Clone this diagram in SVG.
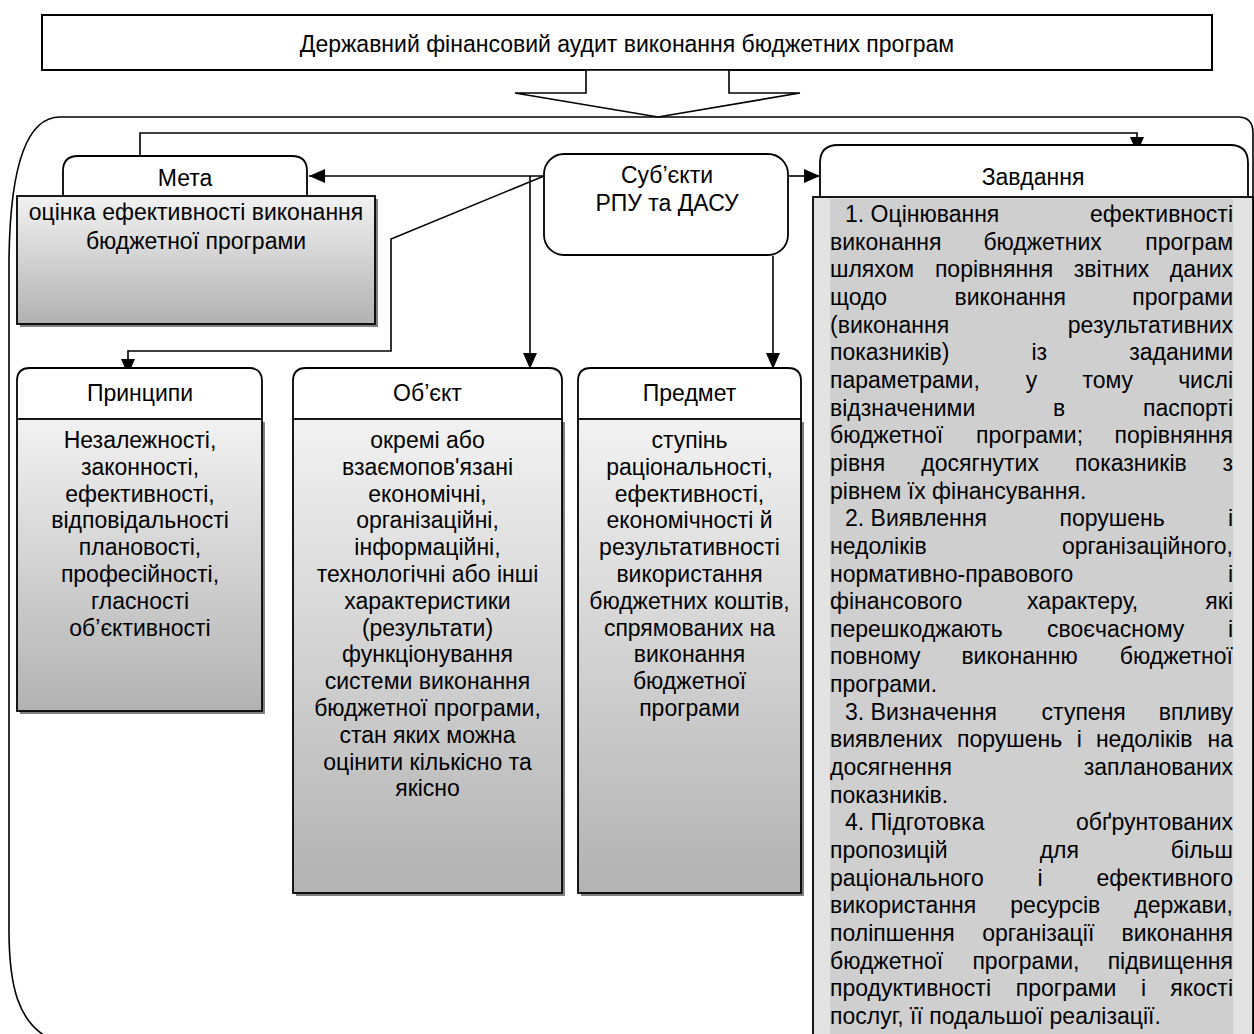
<svg xmlns="http://www.w3.org/2000/svg" width="1254" height="1034" viewBox="0 0 1254 1034">
<style>
text{font-family:"Liberation Sans",Arial,sans-serif;font-size:23px;fill:#000}
.c{text-anchor:middle}
.e{text-anchor:end}
.ln{fill:none;stroke:#000;stroke-width:1.6}
.bx{stroke:#000;stroke-width:1.8}
.hd{fill:#fff;stroke:#000;stroke-width:1.8}
.sh{fill:#808080}
</style>
<defs>
<linearGradient id="g" x1="0" y1="0" x2="0" y2="1">
<stop offset="0" stop-color="#f2f2f2"/>
<stop offset="1" stop-color="#b2b2b2"/>
</linearGradient>
<marker id="a" markerUnits="userSpaceOnUse" viewBox="0 0 16 14" markerWidth="16" markerHeight="14" refX="16" refY="7" orient="auto">
<path d="M0,0 L16,7 L0,14 z" fill="#000"/>
</marker>
</defs>
<rect width="1254" height="1034" fill="#fff"/>

<g id="frame">
<path class="ln" d="M1253,1040 V133 Q1253,117 1238,117 H60 C25,117 10,170 9,260 V930 C9,990 20,1020 45,1036"/>
</g>

<g id="title">
<rect x="42" y="15" width="1170" height="55" fill="#fff" stroke="#000" stroke-width="2"/>
<text class="c" x="627" y="52">Державний фінансовий аудит виконання бюджетних програм</text>
</g>

<g id="bigarrow">
<polygon points="586,70 586,93 515,93 658,117 800,93 729,93 729,70" fill="#fff" stroke="#000" stroke-width="1.6"/>
</g>

<g id="connectors">
<path class="ln" d="M140,162 V133 H1137 V153" marker-end="url(#a)"/>
<path class="ln" d="M544,176 H309" marker-end="url(#a)"/>
<path class="ln" d="M788,176 H820" marker-end="url(#a)"/>
<path class="ln" d="M544,176 L391,239 V351 H128 V375" marker-end="url(#a)"/>
<path class="ln" d="M530,176 V369" marker-end="url(#a)"/>
<path class="ln" d="M773,256 V369" marker-end="url(#a)"/>
</g>

<g id="meta">
<path class="hd" d="M63,196 V171 Q63,156 78,156 H292 Q307,156 307,171 V196"/>
<text class="c" x="185" y="186">Мета</text>
<rect class="sh" x="20" y="199" width="358" height="128"/>
<rect class="bx" x="17" y="196" width="358" height="128" fill="url(#g)"/>
<text class="c" x="196" y="220">оцінка ефективності виконання</text>
<text class="c" x="196" y="249">бюджетної програми</text>
</g>

<g id="subjects">
<rect class="hd" x="544" y="154" width="244" height="101" rx="20"/>
<text class="c" x="667" y="183">Суб’єкти</text>
<text class="c" x="667" y="211">РПУ та ДАСУ</text>
</g>

<g id="pryntsypy">
<path class="hd" d="M17,419 V381 Q17,368 30,368 H249 Q262,368 262,381 V419"/>
<text class="c" x="140" y="401">Принципи</text>
<rect class="sh" x="20" y="422" width="245" height="292"/>
<rect class="bx" x="17" y="419" width="245" height="292" fill="url(#g)"/>
<text class="c" x="140" y="448">Незалежності,</text>
<text class="c" x="140" y="474.8">законності,</text>
<text class="c" x="140" y="501.6">ефективності,</text>
<text class="c" x="140" y="528.4">відповідальності</text>
<text class="c" x="140" y="555.2">плановості,</text>
<text class="c" x="140" y="582">професійності,</text>
<text class="c" x="140" y="608.8">гласності</text>
<text class="c" x="140" y="635.6">об’єктивності</text>
</g>

<g id="obiekt">
<path class="hd" d="M293,419 V381 Q293,368 306,368 H549 Q562,368 562,381 V419"/>
<text class="c" x="427.5" y="401">Об’єкт</text>
<rect class="sh" x="296" y="422" width="269" height="474"/>
<rect class="bx" x="293" y="419" width="269" height="474" fill="url(#g)"/>
<text class="c" x="427.5" y="448">окремі або</text>
<text class="c" x="427.5" y="474.8">взаємопов'язані</text>
<text class="c" x="427.5" y="501.6">економічні,</text>
<text class="c" x="427.5" y="528.4">організаційні,</text>
<text class="c" x="427.5" y="555.2">інформаційні,</text>
<text class="c" x="427.5" y="582">технологічні або інші</text>
<text class="c" x="427.5" y="608.8">характеристики</text>
<text class="c" x="427.5" y="635.6">(результати)</text>
<text class="c" x="427.5" y="662.4">функціонування</text>
<text class="c" x="427.5" y="689.2">системи виконання</text>
<text class="c" x="427.5" y="716">бюджетної програми,</text>
<text class="c" x="427.5" y="742.8">стан яких можна</text>
<text class="c" x="427.5" y="769.6">оцінити кількісно та</text>
<text class="c" x="427.5" y="796.4">якісно</text>
</g>

<g id="predmet">
<path class="hd" d="M578,419 V381 Q578,368 591,368 H788 Q801,368 801,381 V419"/>
<text class="c" x="689.5" y="401">Предмет</text>
<rect class="sh" x="581" y="422" width="223" height="474"/>
<rect class="bx" x="578" y="419" width="223" height="474" fill="url(#g)"/>
<text class="c" x="689.5" y="448">ступінь</text>
<text class="c" x="689.5" y="474.8">раціональності,</text>
<text class="c" x="689.5" y="501.6">ефективності,</text>
<text class="c" x="689.5" y="528.4">економічності й</text>
<text class="c" x="689.5" y="555.2">результативності</text>
<text class="c" x="689.5" y="582">використання</text>
<text class="c" x="689.5" y="608.8">бюджетних коштів,</text>
<text class="c" x="689.5" y="635.6">спрямованих на</text>
<text class="c" x="689.5" y="662.4">виконання</text>
<text class="c" x="689.5" y="689.2">бюджетної</text>
<text class="c" x="689.5" y="716">програми</text>
</g>

<g id="zavdannia">
<path class="hd" d="M820,197 V163 Q820,145 838,145 H1230 Q1248,145 1248,163 V197"/>
<text class="c" x="1033" y="185">Завдання</text>
<rect class="bx" x="813" y="197" width="440" height="845" fill="#e3e3e3"/>
<rect x="830" y="199" width="403" height="840" fill="#cfcfcf"/>
<text x="845" y="222">1. Оцінювання</text><text class="e" x="1233" y="222">ефективності</text>
<text x="830" y="249.7">виконання</text><text x="983.4" y="249.7">бюджетних</text><text class="e" x="1233" y="249.7">програм</text>
<text x="830" y="277.3">шляхом</text><text x="934.9" y="277.3">порівняння</text><text x="1073.8" y="277.3">звітних</text><text class="e" x="1233" y="277.3">даних</text>
<text x="830" y="305">щодо</text><text x="954.5" y="305">виконання</text><text class="e" x="1233" y="305">програми</text>
<text x="830" y="332.6">(виконання</text><text class="e" x="1233" y="332.6">результативних</text>
<text x="830" y="360.3">показників)</text><text x="1031.5" y="360.3">із</text><text class="e" x="1233" y="360.3">заданими</text>
<text x="830" y="387.9">параметрами,</text><text x="1025.7" y="387.9">у</text><text x="1082.4" y="387.9">тому</text><text class="e" x="1233" y="387.9">числі</text>
<text x="830" y="415.6">відзначеними</text><text x="1053.1" y="415.6">в</text><text class="e" x="1233" y="415.6">паспорті</text>
<text x="830" y="443.2">бюджетної</text><text x="976" y="443.2">програми;</text><text class="e" x="1233" y="443.2">порівняння</text>
<text x="830" y="470.9">рівня</text><text x="921.3" y="470.9">досягнутих</text><text x="1074.9" y="470.9">показників</text><text class="e" x="1233" y="470.9">з</text>
<text x="830" y="498.5">рівнем їх фінансування.</text>
<text x="845" y="526.2">2. Виявлення</text><text x="1059.5" y="526.2">порушень</text><text class="e" x="1233" y="526.2">і</text>
<text x="830" y="553.8">недоліків</text><text class="e" x="1233" y="553.8">організаційного,</text>
<text x="830" y="581.5">нормативно-правового</text><text class="e" x="1233" y="581.5">і</text>
<text x="830" y="609.1">фінансового</text><text x="1027.1" y="609.1">характеру,</text><text class="e" x="1233" y="609.1">які</text>
<text x="830" y="636.8">перешкоджають</text><text x="1047" y="636.8">своєчасному</text><text class="e" x="1233" y="636.8">і</text>
<text x="830" y="664.4">повному</text><text x="961.4" y="664.4">виконанню</text><text class="e" x="1233" y="664.4">бюджетної</text>
<text x="830" y="692.1">програми.</text>
<text x="845" y="719.7">3. Визначення</text><text x="1041.6" y="719.7">ступеня</text><text class="e" x="1233" y="719.7">впливу</text>
<text x="830" y="747.4">виявлених</text><text x="957.1" y="747.4">порушень</text><text x="1076.7" y="747.4">і</text><text x="1095.9" y="747.4">недоліків</text><text class="e" x="1233" y="747.4">на</text>
<text x="830" y="775">досягнення</text><text class="e" x="1233" y="775">запланованих</text>
<text x="830" y="802.7">показників.</text>
<text x="845" y="830.3">4. Підготовка</text><text class="e" x="1233" y="830.3">обґрунтованих</text>
<text x="830" y="858">пропозицій</text><text x="1039.7" y="858">для</text><text class="e" x="1233" y="858">більш</text>
<text x="830" y="885.6">раціонального</text><text x="1037.6" y="885.6">і</text><text class="e" x="1233" y="885.6">ефективного</text>
<text x="830" y="913.3">використання</text><text x="1010.3" y="913.3">ресурсів</text><text class="e" x="1233" y="913.3">держави,</text>
<text x="830" y="940.9">поліпшення</text><text x="982.2" y="940.9">організації</text><text class="e" x="1233" y="940.9">виконання</text>
<text x="830" y="968.6">бюджетної</text><text x="972.4" y="968.6">програми,</text><text class="e" x="1233" y="968.6">підвищення</text>
<text x="830" y="996.2">продуктивності</text><text x="1015.8" y="996.2">програми</text><text x="1141" y="996.2">і</text><text class="e" x="1233" y="996.2">якості</text>
<text x="830" y="1023.9">послуг, її подальшої реалізації.</text>
</g>
</svg>
